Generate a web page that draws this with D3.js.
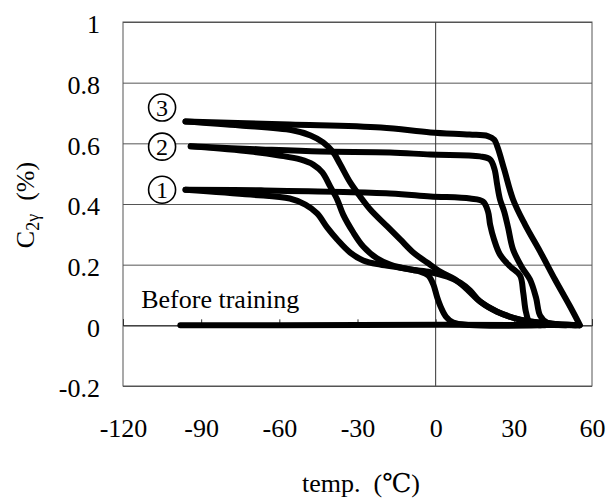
<!DOCTYPE html>
<html>
<head>
<meta charset="utf-8">
<script src="https://cdn.jsdelivr.net/npm/d3@7.9.0/dist/d3.min.js"></script>
<style>
  body { margin: 0; background: #fff; }
  svg { display: block; }
</style>
</head>
<body>
<svg id="chart" width="608" height="499"></svg>
<script>
const xTicks = [-120, -90, -60, -30, 0, 30, 60];
const yTicks = [-0.2, 0, 0.2, 0.4, 0.6, 0.8, 1];

// [temp, C2γ]
const beforeTraining = [[-98, 0], [-60, 0], [0, 0.002], [40, 0.001], [55, 0]];

const upper3 = [[-96, 0.672], [-56, 0.662], [-21, 0.652], [-2, 0.636], [13, 0.629], [20, 0.624],
  [22.5, 0.612], [23.8, 0.586], [26.3, 0.514], [29.7, 0.415], [34.3, 0.332], [40.1, 0.243],
  [45.8, 0.151], [51.6, 0.062], [55.4, 0]];
const lower3 = [[-96, 0.672], [-75, 0.659], [-55, 0.643], [-48, 0.626], [-43.2, 0.603],
  [-39.3, 0.570], [-36.6, 0.530], [-32.8, 0.471], [-29, 0.425], [-25.1, 0.382], [-18.6, 0.326],
  [-13.6, 0.283], [-8.6, 0.240], [-3.3, 0.207], [1.7, 0.177], [7.5, 0.151], [12.1, 0.118],
  [17.1, 0.078], [23.6, 0.045], [32.4, 0.019], [43.9, 0.006], [54.7, 0]];

const upper2 = [[-94, 0.590], [-67, 0.580], [-44, 0.573], [-17.5, 0.570], [-2, 0.563], [17, 0.557],
  [20.9, 0.547], [22.6, 0.514], [23.6, 0.464], [24.7, 0.415], [26.3, 0.375], [27.8, 0.322],
  [29.7, 0.250], [33.2, 0.190], [36.2, 0.151], [38.5, 0.092], [40.1, 0.032], [42.8, 0.009], [49.7, 0]];
const lower2 = [[-94, 0.590], [-71, 0.573], [-60, 0.560], [-52, 0.547], [-47, 0.530], [-43.5, 0.504],
  [-40.5, 0.458], [-37.8, 0.415], [-35.5, 0.365], [-31.6, 0.306], [-27.8, 0.260], [-22.4, 0.220],
  [-17.5, 0.200], [-9.8, 0.184], [-2, 0.175], [4.5, 0.160], [9.5, 0.140], [13.2, 0.115],
  [17.1, 0.078], [23.6, 0.045], [32.4, 0.019], [43.9, 0.006], [53.5, 0]];

const upper1 = [[-96, 0.447], [-67, 0.445], [-17.5, 0.435], [-2, 0.425], [13.2, 0.418], [18.2, 0.408],
  [20.1, 0.375], [20.9, 0.332], [22.4, 0.283], [24.7, 0.233], [28.6, 0.194], [32.4, 0.164],
  [33.6, 0.108], [34.7, 0.042], [36.2, 0.009], [42, 0]];
const lower1 = [[-96, 0.447], [-71, 0.431], [-56, 0.418], [-50, 0.398], [-45.5, 0.369], [-41.6, 0.322],
  [-37.8, 0.283], [-32.8, 0.240], [-27.8, 0.214], [-21.3, 0.200], [-13.6, 0.190], [-5.9, 0.177],
  [-2.8, 0.164], [-0.9, 0.135], [0.6, 0.092], [2.1, 0.058], [4, 0.028], [6.7, 0.009], [13, 0.001], [40, 0]];

const curves = [beforeTraining, upper3, lower3, upper2, lower2, upper1, lower1];

// circled curve numbers
const curveLabels = [
  { text: "3", t: -105, c: 0.718 },
  { text: "2", t: -105, c: 0.589 },
  { text: "1", t: -105, c: 0.447 }
];

const serif = "'Liberation Serif', 'DejaVu Serif', serif";

const margin = { top: 22, right: 16, bottom: 113, left: 123 };
const width = 608 - margin.left - margin.right;
const height = 499 - margin.top - margin.bottom;

const svg = d3.select("#chart");
const g = svg.append("g").attr("transform", `translate(${margin.left},${margin.top})`);

const x = d3.scaleLinear().domain([-120, 60]).range([0, width]);
const y = d3.scaleLinear().domain([-0.2, 1]).range([height, 0]);

// horizontal grid
g.append("g")
  .call(d3.axisLeft(y).tickValues(yTicks).tickSize(-width).tickFormat(""))
  .call(a => a.select(".domain").remove())
  .call(a => a.selectAll("line").attr("stroke", "#555").attr("stroke-width", 1));

// vertical line at 0
g.append("line")
  .attr("x1", x(0)).attr("x2", x(0)).attr("y1", 0).attr("y2", height)
  .attr("stroke", "#333").attr("stroke-width", 1);

// plot frame
g.append("rect")
  .attr("width", width).attr("height", height)
  .attr("fill", "none").attr("stroke", "#555").attr("stroke-width", 1);

// x axis crossing at 0 with small ticks
g.append("g")
  .attr("transform", `translate(0,${y(0)})`)
  .call(d3.axisTop(x).tickValues(xTicks).tickSize(6).tickFormat(""))
  .call(a => a.select(".domain").attr("stroke", "#222"))
  .call(a => a.selectAll("line").attr("stroke", "#333"));

// tick labels
g.append("g")
  .attr("transform", `translate(0,${height})`)
  .call(d3.axisBottom(x).tickValues(xTicks).tickSize(0).tickPadding(33).tickFormat(d => String(d)))
  .call(a => a.select(".domain").remove())
  .call(a => a.selectAll("text").attr("font-size", 26).attr("font-family", null).style("font-family", serif));

g.append("g")
  .call(d3.axisLeft(y).tickValues(yTicks).tickSize(0).tickPadding(23).tickFormat(d => String(+d.toFixed(1))))
  .call(a => a.select(".domain").remove())
  .call(a => a.selectAll("text").attr("font-size", 26).attr("dy", "0.42em").style("font-family", serif));

// curves
const line = d3.line()
  .x(d => x(d[0]))
  .y(d => y(d[1]))
  .curve(d3.curveCatmullRom.alpha(0.5));

g.selectAll("path.curve")
  .data(curves)
  .join("path")
  .attr("class", "curve")
  .attr("d", line)
  .attr("fill", "none")
  .attr("stroke", "#000")
  .attr("stroke-width", 6)
  .attr("stroke-linecap", "round")
  .attr("stroke-linejoin", "round");

// circled labels
const lab = g.selectAll("g.num")
  .data(curveLabels)
  .join("g")
  .attr("class", "num")
  .attr("transform", d => `translate(${x(d.t)},${y(d.c)})`);
lab.append("circle")
  .attr("r", 13.5)
  .attr("fill", "#fff")
  .attr("stroke", "#000")
  .attr("stroke-width", 1.6);
lab.append("text")
  .attr("text-anchor", "middle")
  .attr("dy", "0.35em")
  .attr("font-size", 24)
  .style("font-family", serif)
  .text(d => d.text);

g.append("text")
  .attr("x", x(-113))
  .attr("y", y(0.058))
  .attr("font-size", 26)
  .style("font-family", serif)
  .text("Before training");

// axis titles
svg.append("text")
  .attr("x", 361)
  .attr("y", 492)
  .attr("text-anchor", "middle")
  .attr("font-size", 26)
  .attr("xml:space", "preserve")
  .style("font-family", serif)
  .text("temp.  (℃)");

const yt = svg.append("text")
  .attr("transform", "translate(34,205) rotate(-90)")
  .attr("text-anchor", "middle")
  .attr("font-size", 26)
  .attr("xml:space", "preserve")
  .style("font-family", serif);
yt.append("tspan").text("C");
yt.append("tspan").attr("font-size", 18).attr("dy", 5).text("2γ");
yt.append("tspan").attr("dy", -5).text("  (%)");
</script>
</body>
</html>
